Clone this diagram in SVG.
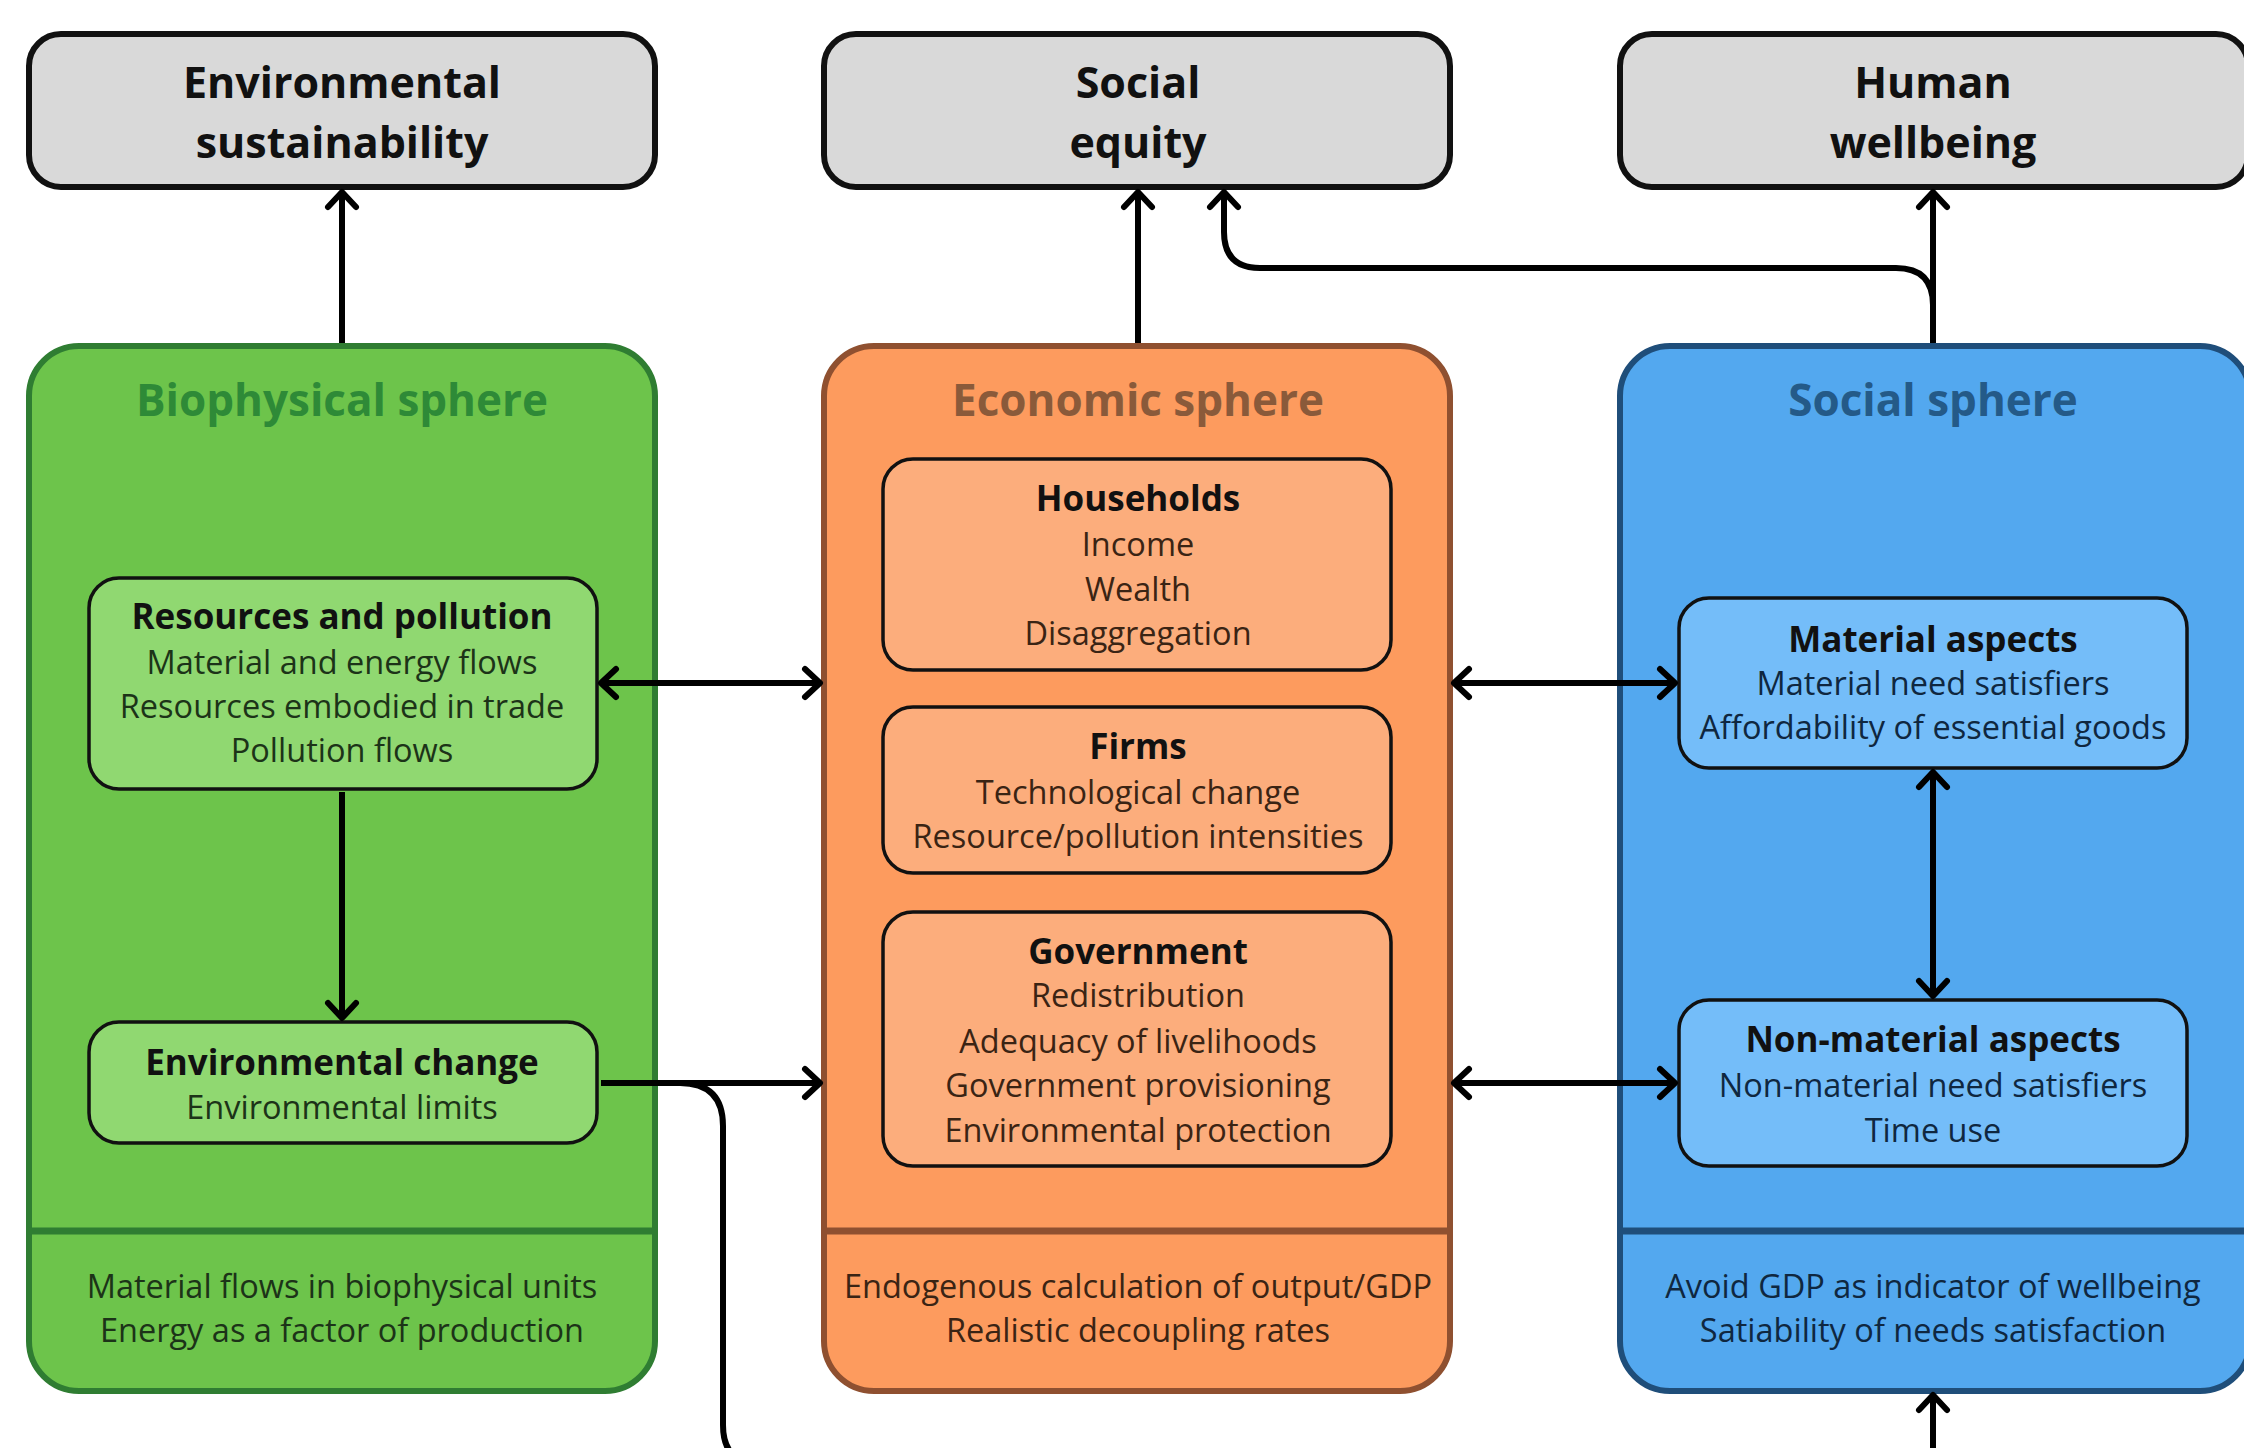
<svg xmlns="http://www.w3.org/2000/svg" width="2244" height="1448" viewBox="0 0 2244 1448">
<style>
text{font-family:"Open Sans","Noto Sans","Liberation Sans",sans-serif;text-anchor:middle}
.top rect{fill:#d9d9d9;stroke:#111;stroke-width:6}
.top text{font-size:43px;font-weight:700;fill:#111}
.st{font-size:44px;font-weight:700}
.h{font-size:35px;font-weight:700;fill:#111}
.l{font-size:32.5px}
.g .outer{fill:#6dc44b;stroke:#2f7d32;stroke-width:6}
.g .inner{fill:#90d871;stroke:#111;stroke-width:3.5}
.g .st{fill:#2e8a37}
.g .l{fill:#1c3318}
.g .div{stroke:#2f7d32;stroke-width:7}
.o .outer{fill:#fd9b5e;stroke:#8f5030;stroke-width:6}
.o .inner{fill:#fcad7c;stroke:#111;stroke-width:3.5}
.o .st{fill:#8a5a3a}
.o .l{fill:#3a2414}
.o .div{stroke:#8f5030;stroke-width:7}
.b .outer{fill:#53a8ef;stroke:#1f4e7a;stroke-width:6}
.b .inner{fill:#74bdf9;stroke:#111;stroke-width:3.5}
.b .st{fill:#245a88}
.b .l{fill:#0f2740}
.b .div{stroke:#1f4e7a;stroke-width:7}
.c path{fill:none;stroke:#000;stroke-width:6}
</style>
<defs>
<marker id="ah" markerUnits="userSpaceOnUse" markerWidth="40" markerHeight="40" refX="0" refY="0" viewBox="-30 -20 40 40" orient="auto-start-reverse" overflow="visible">
<path d="M -15 -14 L 0 0 L -15 14" fill="none" stroke="#000" stroke-width="6" stroke-linecap="round" stroke-linejoin="round"/>
</marker>
</defs>
<rect width="2244" height="1448" fill="#fff"/>

<g id="env-sustainability" class="top">
<rect x="29" y="34" width="626" height="153" rx="32"/>
<text x="342" y="98">Environmental</text>
<text x="342" y="158">sustainability</text>
</g>
<g id="social-equity" class="top">
<rect x="824" y="34" width="626" height="153" rx="32"/>
<text x="1138" y="98">Social</text>
<text x="1138" y="158">equity</text>
</g>
<g id="human-wellbeing" class="top">
<rect x="1620" y="34" width="628" height="153" rx="32"/>
<text x="1933" y="98">Human</text>
<text x="1933" y="158">wellbeing</text>
</g>

<g id="biophysical-sphere" class="g">
<rect class="outer" x="29" y="346" width="626" height="1045" rx="50"/>
<line class="div" x1="29" y1="1231" x2="655" y2="1231"/>
<text class="st" x="342" y="416">Biophysical sphere</text>
<text class="l" x="342" y="1298">Material flows in biophysical units</text>
<text class="l" x="342" y="1342">Energy as a factor of production</text>
</g>
<g id="resources-pollution" class="g">
<rect class="inner" x="89" y="578" width="508" height="211" rx="30"/>
<text class="h" x="342" y="629">Resources and pollution</text>
<text class="l" x="342" y="674">Material and energy flows</text>
<text class="l" x="342" y="718">Resources embodied in trade</text>
<text class="l" x="342" y="762">Pollution flows</text>
</g>
<g id="environmental-change" class="g">
<rect class="inner" x="89" y="1022" width="508" height="121" rx="30"/>
<text class="h" x="342" y="1075">Environmental change</text>
<text class="l" x="342" y="1119">Environmental limits</text>
</g>

<g id="economic-sphere" class="o">
<rect class="outer" x="824" y="346" width="626" height="1045" rx="50"/>
<line class="div" x1="824" y1="1231" x2="1450" y2="1231"/>
<text class="st" x="1138" y="416">Economic sphere</text>
<text class="l" x="1138" y="1298">Endogenous calculation of output/GDP</text>
<text class="l" x="1138" y="1342">Realistic decoupling rates</text>
</g>
<g id="households" class="o">
<rect class="inner" x="883" y="459" width="508" height="211" rx="30"/>
<text class="h" x="1138" y="511">Households</text>
<text class="l" x="1138" y="556">Income</text>
<text class="l" x="1138" y="601">Wealth</text>
<text class="l" x="1138" y="645">Disaggregation</text>
</g>
<g id="firms" class="o">
<rect class="inner" x="883" y="707" width="508" height="166" rx="30"/>
<text class="h" x="1138" y="759">Firms</text>
<text class="l" x="1138" y="804">Technological change</text>
<text class="l" x="1138" y="848">Resource/pollution intensities</text>
</g>
<g id="government" class="o">
<rect class="inner" x="883" y="912" width="508" height="254" rx="30"/>
<text class="h" x="1138" y="964">Government</text>
<text class="l" x="1138" y="1007">Redistribution</text>
<text class="l" x="1138" y="1053">Adequacy of livelihoods</text>
<text class="l" x="1138" y="1097">Government provisioning</text>
<text class="l" x="1138" y="1142">Environmental protection</text>
</g>

<g id="social-sphere" class="b">
<rect class="outer" x="1620" y="346" width="630" height="1045" rx="50"/>
<line class="div" x1="1620" y1="1231" x2="2250" y2="1231"/>
<text class="st" x="1933" y="416">Social sphere</text>
<text class="l" x="1933" y="1298">Avoid GDP as indicator of wellbeing</text>
<text class="l" x="1933" y="1342">Satiability of needs satisfaction</text>
</g>
<g id="material-aspects" class="b">
<rect class="inner" x="1679" y="598" width="508" height="170" rx="30"/>
<text class="h" x="1933" y="652">Material aspects</text>
<text class="l" x="1933" y="695">Material need satisfiers</text>
<text class="l" x="1933" y="739">Affordability of essential goods</text>
</g>
<g id="non-material-aspects" class="b">
<rect class="inner" x="1679" y="1000" width="508" height="166" rx="30"/>
<text class="h" x="1933" y="1052">Non-material aspects</text>
<text class="l" x="1933" y="1097">Non-material need satisfiers</text>
<text class="l" x="1933" y="1142">Time use</text>
</g>

<g id="connectors" class="c">
<path d="M 342 343 L 342 192" marker-end="url(#ah)"/>
<path d="M 1138 343 L 1138 192" marker-end="url(#ah)"/>
<path d="M 1933 343 L 1933 192" marker-end="url(#ah)"/>
<path d="M 1933 330 L 1933 305 Q 1933 268 1896 268 L 1260 268 Q 1224 268 1224 232 L 1224 192" marker-end="url(#ah)"/>
<path d="M 601 683 L 820 683" marker-start="url(#ah)" marker-end="url(#ah)"/>
<path d="M 342 792 L 342 1018" marker-end="url(#ah)"/>
<path d="M 601 1083 L 820 1083" marker-end="url(#ah)"/>
<path d="M 680 1083 Q 723 1083 723 1126 L 723 1425 Q 723 1465 763 1465"/>
<path d="M 1933 1470 L 1933 1395" marker-end="url(#ah)"/>
<path d="M 1454 683 L 1675 683" marker-start="url(#ah)" marker-end="url(#ah)"/>
<path d="M 1454 1083 L 1675 1083" marker-start="url(#ah)" marker-end="url(#ah)"/>
<path d="M 1933 772 L 1933 996" marker-start="url(#ah)" marker-end="url(#ah)"/>
</g>
</svg>
